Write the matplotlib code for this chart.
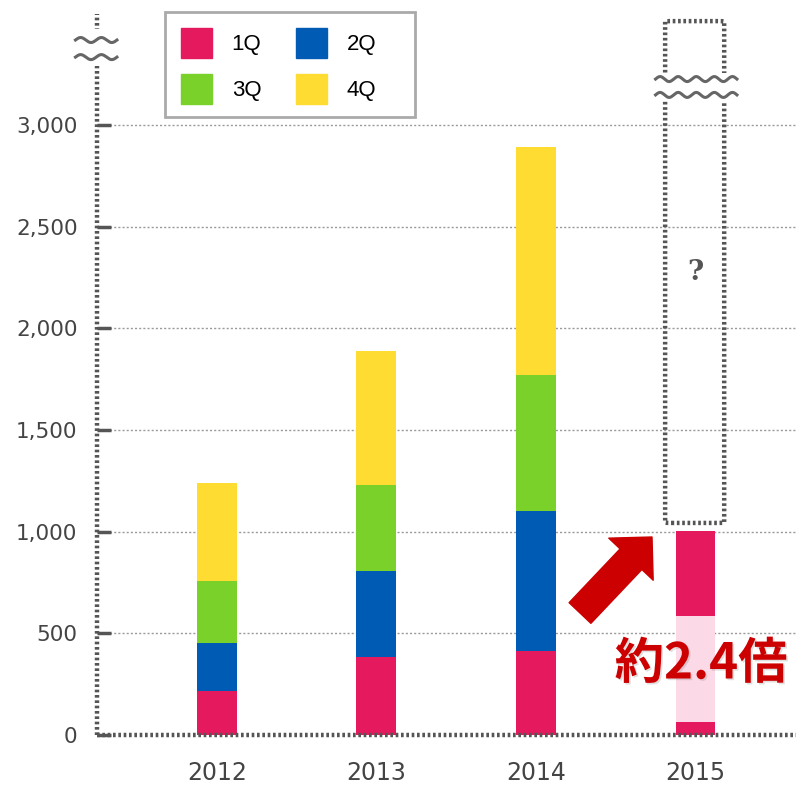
import numpy as np
import matplotlib
matplotlib.use('Agg')
import matplotlib.pyplot as plt
from matplotlib.patches import Patch, FancyBboxPatch, Rectangle
import matplotlib.patheffects as pe

# データ
years = ['2012', '2013', '2014', '2015']
q1 = [216, 384, 413, 0]
q2 = [237, 423, 689, 0]
q3 = [305, 423, 669, 0]
q4 = [482, 659, 1122, 0]
# 2015年 1Q (強調部分: 濃, 淡, 濃)
q1_2015_parts = [64, 521, 419]
box_2015 = [1043, 3511]          # 破線の枠 (下端, 上端)
yticks = [0, 500, 1000, 1500, 2000, 2500, 3000]
ratio_label = '約2.4倍'

c_q1, c_q2, c_q3, c_q4 = '#e5195e', '#005bb5', '#7ad12a', '#fedc32'
c_light = '#fbd9e6'
c_dark = '#555555'

fig = plt.figure(figsize=(7.96, 7.86), dpi=100)
ax = fig.add_axes([97/796, 51/786, 699/796, 721/786])

x = np.arange(len(years))
w = 0.25
ymax = 3546
ax.set_xlim(-0.75, 3.63)
ax.set_ylim(0, ymax)

# 積み上げ棒
bottom = np.zeros(len(years))
for vals, col in [(q1, c_q1), (q2, c_q2), (q3, c_q3), (q4, c_q4)]:
    ax.bar(x, vals, w, bottom=bottom, color=col, zorder=3)
    bottom += np.array(vals)

b = 0
for v, col in zip(q1_2015_parts, [c_q1, c_light, c_q1]):
    ax.bar(x[3], v, w, bottom=b, color=col, zorder=3)
    b += v

# グリッド
for t in yticks[1:]:
    ax.axhline(t, color='#9a9a9a', linestyle=(0, (1.5, 1.5)), lw=1.0, zorder=1)

# 軸
for s in ['top', 'right', 'left', 'bottom']:
    ax.spines[s].set_visible(False)
ax.plot([-0.75, 3.63], [0, 0], color=c_dark, lw=3.2, linestyle=(0, (0.6, 0.6)),
        clip_on=False, zorder=4)
ax.plot([-0.75, -0.75], [0, ymax], color=c_dark, lw=3.2, linestyle=(0, (0.6, 0.6)),
        clip_on=False, zorder=4)

ax.set_yticks(yticks)
ax.set_yticklabels([f'{t:,}' for t in yticks])
ax.tick_params(axis='y', direction='in', length=10, width=2.5, color=c_dark,
               labelsize=15.5, labelcolor='#444444', pad=14)
ax.set_xticks(x)
ax.set_xticklabels(years)
ax.tick_params(axis='x', length=0, labelsize=17, labelcolor='#444444', pad=19)

# 波線 (省略記号)
px_y = 4.918


def wave(x0, x1, yc, periods, amp_px=2.5):
    xs = np.linspace(x0, x1, 200)
    ys = yc + amp_px * px_y * np.sin((xs - x0) / (x1 - x0) * periods * 2 * np.pi)
    ax.plot(xs, ys, color='#666666', lw=2.2, clip_on=False, zorder=7)


# y軸の省略
ax.add_patch(Rectangle((-0.9, 3290), 0.3, 180, facecolor='white', edgecolor='none',
                       clip_on=False, zorder=6))
wave(-0.885, -0.625, 3418, 2)
wave(-0.885, -0.625, 3334, 2)

# 2015年の破線枠
bx0 = x[3] - 0.19
box = FancyBboxPatch((bx0, box_2015[0]), 0.37, box_2015[1] - box_2015[0],
                     boxstyle='round,pad=0,rounding_size=0.04', mutation_aspect=40,
                     facecolor='none', edgecolor=c_dark, lw=3.2,
                     linestyle=(0, (0.6, 0.6)), clip_on=False, zorder=5)
ax.add_patch(box)
ax.add_patch(Rectangle((bx0 - 0.1, 3120), 0.56, 135, facecolor='white', edgecolor='none',
                       clip_on=False, zorder=6))
wave(x[3] - 0.25, x[3] + 0.26, 3226, 4.5)
wave(x[3] - 0.25, x[3] + 0.26, 3148, 4.5)
ax.text(x[3], 2277, '?', ha='center', va='center', fontsize=20, fontweight='bold',
        family='DejaVu Serif', color='#555555', zorder=6)

# 矢印とテキスト
ax.annotate('', xy=(652, 249), xycoords='figure pixels',
            xytext=(580, 173), textcoords='figure pixels',
            arrowprops=dict(arrowstyle='simple,head_length=1.1,head_width=2.2,tail_width=1.08',
                            mutation_scale=20, color='#cc0000', shrinkA=0, shrinkB=0),
            zorder=8)
fig.text(701/796, 122/786, ratio_label, ha='center', va='center', fontsize=35.5,
         fontweight='bold', color='#cc0000', family=['Noto Sans CJK JP', 'DejaVu Sans'],
         path_effects=[pe.withSimplePatchShadow(offset=(1.2, -1.2), shadow_rgbFace='#666666',
                                                alpha=0.2)])

# 凡例 (行: 1Q 2Q / 3Q 4Q)
handles = [Patch(color=c_q1, label='1Q'), Patch(color=c_q3, label='3Q'),
           Patch(color=c_q2, label='2Q'), Patch(color=c_q4, label='4Q')]
leg = fig.legend(handles=handles, ncol=2, loc='upper left',
                 bbox_to_anchor=(165/796, 1 - 12/786), bbox_transform=fig.transFigure,
                 borderaxespad=0, prop={'family': 'Liberation Sans', 'size': 16},
                 handlelength=1.4, handleheight=1.7, handletextpad=0.9,
                 columnspacing=1.55, labelspacing=0.75, borderpad=0.7,
                 frameon=False)
fig.patches.append(Rectangle((165/796, 1 - 117/786), 250/796, 105/786,
                             transform=fig.transFigure, facecolor='none',
                             edgecolor='#aaaaaa', lw=2))

plt.savefig('out.png', dpi=100)
